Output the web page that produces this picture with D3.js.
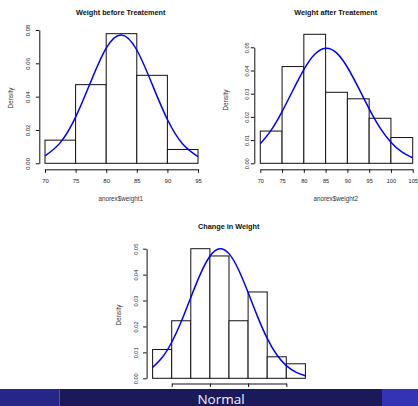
<!DOCTYPE html>
<html>
<head>
<meta charset="utf-8">
<script src="https://cdn.jsdelivr.net/npm/d3@7"></script>
<style>
  body { margin: 0; background: #fff; }
  svg { display: block; font-family: "Liberation Sans", Arial, sans-serif; }
</style>
</head>
<body>
<div id="chart"></div>
<script>
// Histograms of anorexia weights with fitted normal curves

// Pt. 0 - DATA (densities)

const beforeBreaks = [70, 75, 80, 85, 90, 95];
const beforeDensity = [0.0139, 0.0472, 0.0778, 0.0528, 0.0083];
const beforeCurveX = [70, 72.5, 75, 77.5, 80, 82.5, 85, 87.5, 90, 92.5, 95];
const beforeCurveY = [0.0044, 0.0124, 0.0277, 0.0491, 0.0691, 0.0770, 0.0680, 0.0475, 0.0263, 0.0116, 0.0040];
const beforeXTicks = [70, 75, 80, 85, 90, 95];
const beforeYTicks = [0, 0.02, 0.04, 0.06, 0.08];

const afterBreaks = [70, 75, 80, 85, 90, 95, 100, 105];
const afterDensity = [0.0139, 0.0417, 0.0556, 0.0306, 0.0278, 0.0194, 0.0111];
const afterCurveX = [70, 72.5, 75, 77.5, 80, 82.5, 85, 87.5, 90, 92.5, 95, 97.5, 100, 102.5, 105];
const afterCurveY = [0.0084, 0.0143, 0.0223, 0.0315, 0.0404, 0.0470, 0.0496, 0.0476, 0.0414, 0.0327, 0.0235, 0.0153, 0.0091, 0.0049, 0.0024];
const afterXTicks = [70, 75, 80, 85, 90, 95, 100, 105];
const afterYTicks = [0, 0.01, 0.02, 0.03, 0.04, 0.05];

const changeBreaks = [-15, -10, -5, 0, 5, 10, 15, 20, 25];
const changeDensity = [0.0111, 0.0222, 0.0500, 0.0472, 0.0222, 0.0333, 0.0083, 0.0056];
const changeCurveX = [-15, -12.5, -10, -7.5, -5, -2.5, 0, 2.5, 5, 7.5, 10, 12.5, 15, 17.5, 20, 22.5, 25];
const changeCurveY = [0.0042, 0.0080, 0.0139, 0.0219, 0.0312, 0.0402, 0.0471, 0.0500, 0.0481, 0.0419, 0.0331, 0.0237, 0.0154, 0.0091, 0.0049, 0.0024, 0.0010];
const changeXTicks = [-10, 0, 10, 20];
const changeYTicks = [0, 0.01, 0.02, 0.03, 0.04, 0.05];

const titles = ["Weight before Treatement", "Weight after Treatement", "Change in Weight"];
const xLabels = ["anorex$weight1", "anorex$weight2", null];
const yLabel = "Density";
const footerText = "Normal";

// Pt. 1 - TYPE SETTING

const width = 418,
      height = 406;

let svg = d3.select("#chart")
    .append("svg")
    .attr("width", width)
    .attr("height", height)
    .attr("viewBox", [0, 0, width, height]);

const fmt = d3.format(".2f");

function drawHist(p) {
    let x = d3.scaleLinear().domain([p.xTicks[0], p.xTicks[p.xTicks.length - 1]]).range(p.xRange);
    let y = d3.scaleLinear().domain([p.yTicks[0], p.yTicks[p.yTicks.length - 1]]).range(p.yRange);

    let g = svg.append("g");

    // bars
    let bins = p.density.map((d, i) => ({ x0: p.breaks[i], x1: p.breaks[i + 1], d: d }));
    g.selectAll("rect")
        .data(bins)
        .join("rect")
        .attr("x", d => x(d.x0))
        .attr("width", d => x(d.x1) - x(d.x0))
        .attr("y", d => y(d.d))
        .attr("height", d => y(0) - y(d.d))
        .attr("fill", "white")
        .attr("stroke", "#111")
        .attr("stroke-width", 1);

    // normal curve
    let line = d3.line()
        .x(d => x(d[0]))
        .y(d => y(d[1]))
        .curve(d3.curveNatural);
    g.append("path")
        .datum(p.curveX.map((v, i) => [v, p.curveY[i]]))
        .attr("d", line)
        .attr("fill", "none")
        .attr("stroke", "#0000ff")
        .attr("stroke-width", 1.5);

    // x axis (labels of the bottom panel are hidden by the footline)
    let xa = g.append("g")
        .attr("transform", `translate(0, ${p.axisY})`)
        .call(d3.axisBottom(x).tickValues(p.xTicks).tickSize(3.5).tickSizeOuter(0)
            .tickFormat(p.showXTickLabels ? d3.format("d") : ""));
    xa.select(".domain").attr("stroke", "#111");
    xa.selectAll(".tick line").attr("stroke", "#111");
    xa.selectAll(".tick text")
        .attr("y", 9.5)
        .attr("dy", "0.71em")
        .attr("fill", "#222")
        .style("font-size", p.tickFont + "px")
        .style("font-family", "Liberation Sans, Arial, sans-serif");
    if (!p.showXTickLabels) xa.selectAll(".tick text").remove();

    // y axis with rotated labels
    let ya = g.append("g")
        .attr("transform", `translate(${p.axisX}, 0)`)
        .call(d3.axisLeft(y).tickValues(p.yTicks).tickSize(3.5).tickSizeOuter(0).tickFormat(fmt));
    ya.select(".domain").attr("stroke", "#111");
    ya.selectAll(".tick line").attr("stroke", "#111");
    ya.selectAll(".tick text")
        .attr("x", null)
        .attr("dy", null)
        .attr("transform", `translate(${-p.yLabOff}, 0) rotate(-90)`)
        .attr("text-anchor", "middle")
        .attr("fill", "#222")
        .style("font-size", p.tickFont + "px")
        .style("font-family", "Liberation Sans, Arial, sans-serif");

    // title and labels
    g.append("text")
        .text(p.title)
        .attr("x", p.titleX)
        .attr("y", p.titleY)
        .attr("dy", "0.35em")
        .attr("text-anchor", "middle")
        .style("font-weight", "bold")
        .style("font-size", "7.3px")
        .attr("fill", "#111");

    if (p.xLab) {
        g.append("text")
            .text(p.xLab)
            .attr("x", p.titleX)
            .attr("y", p.xLabY)
            .attr("dy", "0.35em")
            .attr("text-anchor", "middle")
            .style("font-size", "6.3px")
            .attr("fill", "#333");
    }

    g.append("text")
        .text(yLabel)
        .attr("transform", `translate(${p.yLabX}, ${p.yLabY}) rotate(-90)`)
        .attr("dy", "0.35em")
        .attr("text-anchor", "middle")
        .style("font-size", "6.3px")
        .attr("fill", "#333");
}

// Pt. 2 - PANELS

drawHist({
    breaks: beforeBreaks, density: beforeDensity, curveX: beforeCurveX, curveY: beforeCurveY,
    xTicks: beforeXTicks, yTicks: beforeYTicks, showXTickLabels: true,
    xRange: [45, 198], yRange: [163.3, 30], axisX: 39.3, axisY: 169.3,
    tickFont: 6, yLabOff: 9.8,
    title: titles[0], titleX: 120.7, titleY: 12.3, xLab: xLabels[0], xLabY: 199,
    yLabX: 11, yLabY: 98
});

drawHist({
    breaks: afterBreaks, density: afterDensity, curveX: afterCurveX, curveY: afterCurveY,
    xTicks: afterXTicks, yTicks: afterYTicks, showXTickLabels: true,
    xRange: [260.3, 412.7], yRange: [163.3, 47.3], axisX: 254.3, axisY: 169.3,
    tickFont: 5.6, yLabOff: 5.5,
    title: titles[1], titleX: 335.7, titleY: 12.3, xLab: xLabels[1], xLabY: 199,
    yLabX: 226, yLabY: 100
});

drawHist({
    breaks: changeBreaks, density: changeDensity, curveX: changeCurveX, curveY: changeCurveY,
    xTicks: changeXTicks, yTicks: changeYTicks, showXTickLabels: false,
    xRange: [171.7, 286.3], yRange: [378.3, 248.7], axisX: 146.6, axisY: 383.5,
    tickFont: 5.6, yLabOff: 8.7,
    title: titles[2], titleX: 228.7, titleY: 226.7, xLab: xLabels[2], xLabY: 414,
    yLabX: 119, yLabY: 315
});

// Pt. 3 - BEAMER FOOTLINE

let foot = svg.append("g");
foot.append("rect").attr("x", 0).attr("y", 389).attr("width", 59.5).attr("height", 17).attr("fill", "#262686");
foot.append("rect").attr("x", 59.5).attr("y", 389).attr("width", 322.5).attr("height", 17).attr("fill", "#1a1a5a");
foot.append("rect").attr("x", 382).attr("y", 389).attr("width", 36).attr("height", 17).attr("fill", "#3333b3");
foot.append("text")
    .text(footerText)
    .attr("x", 221)
    .attr("y", 403.5)
    .attr("text-anchor", "middle")
    .style("font-family", "Open Sans, sans-serif")
    .style("font-size", "13.5px")
    .attr("fill", "#f2f2f8");
</script>
</body>
</html>
